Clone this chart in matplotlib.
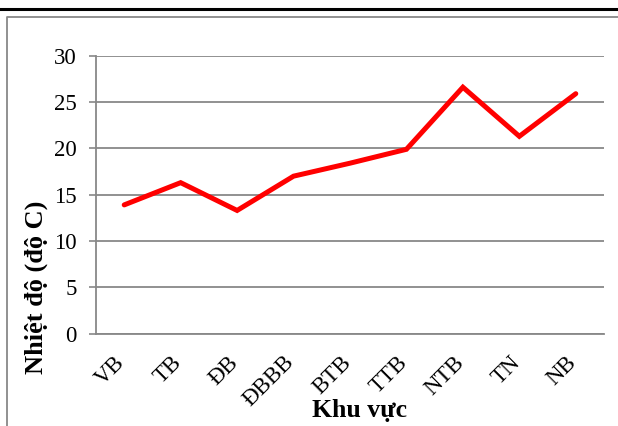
import matplotlib
matplotlib.use("Agg")
import matplotlib.pyplot as plt
from matplotlib.lines import Line2D
from matplotlib.transforms import ScaledTranslation

categories = ["VB", "TB", "ĐB", "ĐBBB", "BTB", "TTB", "NTB", "TN", "NB"]
temps = [13.9, 16.3, 13.3, 17.0, 18.4, 19.9, 26.6, 21.3, 25.9]
yticks = [0, 5, 10, 15, 20, 25, 30]

plt.rcParams['font.family'] = ['Liberation Serif', 'DejaVu Serif']

W, H = 618, 426
fig = plt.figure(figsize=(W/100, H/100), dpi=100)
fig.patch.set_facecolor('white')

ax = fig.add_axes([96/W, 1-333.7/H, (604-96)/W, (333.7-55.7)/H])
x = list(range(len(categories)))
ax.plot(x, temps, color='#ff0000', lw=3.6, solid_joinstyle='miter', solid_capstyle='round')
ax.set_xlim(-0.5, len(categories)-0.5)
ax.set_ylim(0, 30)
ax.set_yticks(yticks)
ax.set_yticklabels([str(v) for v in yticks], fontsize=16.5)
ax.set_xticks(x)
ax.set_xticklabels(categories, rotation=45, ha='right', va='top', fontsize=16.5)
ax.tick_params(axis='x', length=0, pad=13)
ax.tick_params(axis='y', length=5, width=1.2, color='#888888', pad=9)
off = ScaledTranslation(5/100, 0, fig.dpi_scale_trans)
for lbl in ax.get_xticklabels():
    lbl.set_transform(lbl.get_transform() + off)
ax.grid(axis='y', color='#888888', lw=1.3)
ax.set_axisbelow(True)
for s in ['top', 'right']:
    ax.spines[s].set_visible(False)
for s in ['left', 'bottom']:
    ax.spines[s].set_color('#888888')
    ax.spines[s].set_linewidth(1.3)

fig.text(36/W, 1-287/H, "Nhiệt độ (độ C)", rotation=90, ha='center', va='center',
         fontsize=19, fontweight='bold')
fig.text(360/W, 1-411/H, "Khu vực", ha='center', va='center',
         fontsize=18.5, fontweight='bold')

# decorative frame
fig.add_artist(Line2D([0, 1], [1-9/H, 1-9/H], color='black', lw=2.2, transform=fig.transFigure))
fig.add_artist(Line2D([6.5/W, 6.5/W, 1.01], [-0.01, 1-16.5/H, 1-16.5/H], color='#888888', lw=1.3,
                      transform=fig.transFigure))

fig.savefig("out.png", dpi=100)
